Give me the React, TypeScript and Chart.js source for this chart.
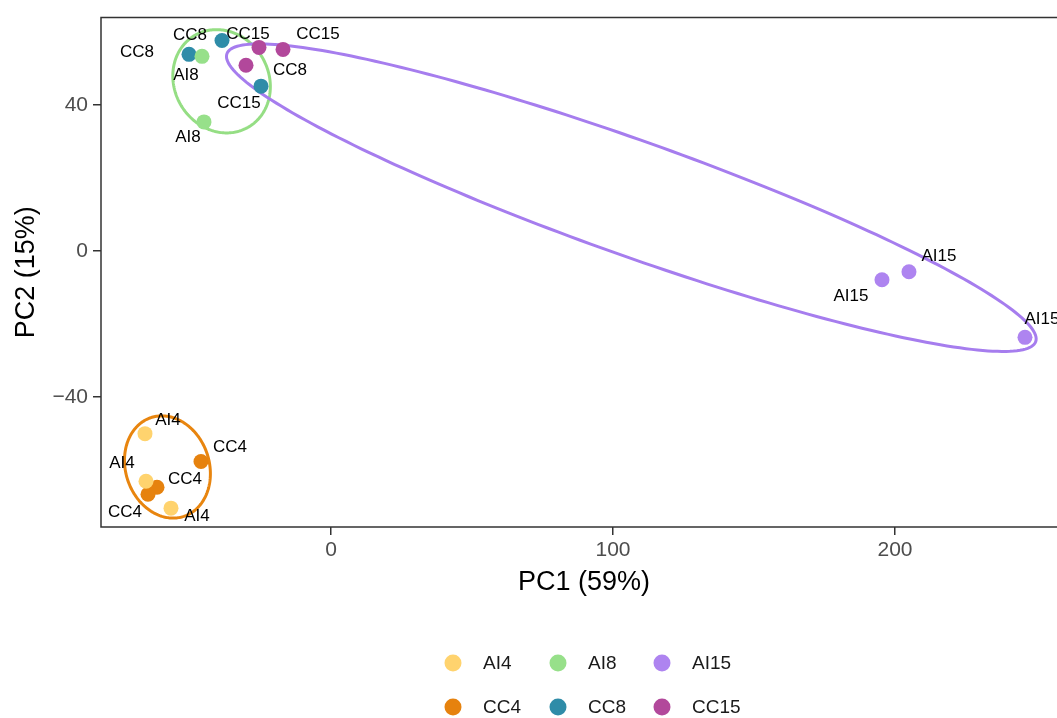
import React, { useEffect, useRef } from "react";
import { Chart, registerables } from "chart.js";
Chart.register(...registerables);

// ---- data ----
const groupNames = ["AI4", "AI8", "AI15", "CC4", "CC8", "CC15"];
const groupColors = ["#FFD36E", "#97E08A", "#AE84F0", "#E6820E", "#2F8CA8", "#B2489B"];

const ai4X = [-65.96, -65.6, -56.74];
const ai4Y = [-50.07, -63.13, -70.48];
const cc4X = [-46.1, -61.7, -64.89];
const cc4Y = [-57.69, -64.76, -66.67];
const ai8X = [-45.74, -45.04];
const ai8Y = [53.33, 35.37];
const cc8X = [-50.35, -38.65, -24.82];
const cc8Y = [53.88, 57.69, 45.17];
const cc15X = [-25.53, -17.02, -30.14];
const cc15Y = [55.78, 55.24, 50.88];
const ai15X = [195.39, 204.96, 246.1];
const ai15Y = [-7.89, -5.71, -23.67];

const xTicks = [0, 100, 200];
const yTicks = [-40, 0, 40];

// ellipses: center, first semi-diameter, second (conjugate) semi-diameter, in data units
const ellipseCX = [-58.0, -38.8, 106.5];
const ellipseCY = [-59.2, 46.5, 14.6];
const ellipseAX = [15.1, 17.2, 143.4];
const ellipseAY = [0, 0, -39.46];
const ellipseBX = [-2.0, -1.8, -6.9];
const ellipseBY = [14.0, 14.15, -14.8];
const ellipseColors = ["#E8850F", "#95DE84", "#A67DEE"];

// label offsets in pixels (repelled text), one per point
const labelDX = {
  AI4: [23, -24, 26],
  AI8: [-16, -16],
  AI15: [-31, 30, 17],
  CC4: [29, 28, -23],
  CC8: [-52, -32, 29],
  CC15: [-11, 35, -7],
};
const labelDY = {
  AI4: [-13, -18, 8],
  AI8: [19, 15],
  AI15: [17, -15, -18],
  CC4: [-14, -8, 18],
  CC8: [-2, -5, -16],
  CC15: [-13, -15, 38],
};

const seriesX: Record<string, number[]> = { AI4: ai4X, AI8: ai8X, AI15: ai15X, CC4: cc4X, CC8: cc8X, CC15: cc15X };
const seriesY: Record<string, number[]> = { AI4: ai4Y, AI8: ai8Y, AI15: ai15Y, CC4: cc4Y, CC8: cc8Y, CC15: cc15Y };

const FONT = "'Liberation Sans', Arial, Helvetica, sans-serif";

const drawOrder = ["AI4", "CC4", "AI8", "CC8", "CC15", "AI15"];

export default function App() {
  const ref = useRef<HTMLCanvasElement | null>(null);

  useEffect(() => {
    document.body.style.margin = "0";
    const canvas = ref.current;
    if (!canvas) return;

    const datasets = drawOrder.map((g) => {
      const i = groupNames.indexOf(g);
      return {
        label: g,
        data: seriesX[g].map((x, k) => ({ x, y: seriesY[g][k] })),
        backgroundColor: groupColors[i],
        borderWidth: 0,
        pointRadius: 7.5,
        pointHoverRadius: 7.5,
      };
    });

    const ellipsePlugin = {
      id: "ellipses",
      beforeDatasetsDraw(chart: any) {
        const { ctx, chartArea, scales } = chart;
        const xs = scales.x, ys = scales.y;
        ctx.save();
        ctx.beginPath();
        ctx.rect(chartArea.left, chartArea.top, chartArea.right - chartArea.left, chartArea.bottom - chartArea.top);
        ctx.clip();
        for (let e = 0; e < ellipseCX.length; e++) {
          ctx.beginPath();
          const n = 240;
          for (let k = 0; k <= n; k++) {
            const t = (k / n) * Math.PI * 2;
            const dx = ellipseCX[e] + ellipseAX[e] * Math.cos(t) + ellipseBX[e] * Math.sin(t);
            const dy = ellipseCY[e] + ellipseAY[e] * Math.cos(t) + ellipseBY[e] * Math.sin(t);
            const px = xs.getPixelForValue(dx);
            const py = ys.getPixelForValue(dy);
            if (k === 0) ctx.moveTo(px, py);
            else ctx.lineTo(px, py);
          }
          ctx.closePath();
          ctx.strokeStyle = ellipseColors[e];
          ctx.lineWidth = 3;
          ctx.stroke();
        }
        // labels
        ctx.fillStyle = "#000";
        ctx.font = `17px ${FONT}`;
        ctx.textAlign = "center";
        ctx.textBaseline = "middle";
        groupNames.forEach((g) => {
          const X = seriesX[g], Y = seriesY[g];
          const ddx = (labelDX as any)[g], ddy = (labelDY as any)[g];
          X.forEach((x, k) => {
            const px = xs.getPixelForValue(x) + ddx[k];
            const py = ys.getPixelForValue(Y[k]) + ddy[k];
            ctx.fillText(g, px, py);
          });
        });
        ctx.restore();
      },
      afterDraw(chart: any) {
        const { ctx, chartArea } = chart;
        ctx.save();
        ctx.strokeStyle = "#333333";
        ctx.lineWidth = 1.5;
        ctx.beginPath();
        ctx.moveTo(chartArea.right + 5, chartArea.top);
        ctx.lineTo(chartArea.left, chartArea.top);
        ctx.lineTo(chartArea.left, chartArea.bottom);
        ctx.lineTo(chartArea.right + 5, chartArea.bottom);
        ctx.stroke();

        // legend
        const colX = [453, 558, 662];
        const rowY = [663, 707];
        ctx.font = `19px ${FONT}`;
        ctx.textAlign = "left";
        ctx.textBaseline = "middle";
        groupNames.forEach((g, i) => {
          const c = i % 3;
          const r = Math.floor(i / 3);
          ctx.beginPath();
          ctx.arc(colX[c], rowY[r], 8.5, 0, Math.PI * 2);
          ctx.fillStyle = groupColors[i];
          ctx.fill();
          ctx.fillStyle = "#1a1a1a";
          ctx.fillText(g, colX[c] + 30, rowY[r] + 1);
        });
        ctx.restore();
      },
    };

    const chart = new Chart(canvas, {
      type: "scatter",
      data: { datasets },
      options: {
        animation: false,
        responsive: false,
        maintainAspectRatio: false,
        devicePixelRatio: 1,
        events: [],
        layout: { padding: { left: 0, right: 13, top: 14, bottom: 116 } },
        plugins: { legend: { display: false }, tooltip: { enabled: false } },
        scales: {
          x: {
            type: "linear",
            min: -81.56,
            max: 261,
            afterBuildTicks: (s: any) => {
              s.ticks = xTicks.map((v) => ({ value: v }));
            },
            afterFit: (s: any) => {
              s.height = 75;
            },
            border: { display: false },
            grid: { display: true, drawOnChartArea: false, drawTicks: true, tickLength: 8, color: "#333333", lineWidth: 1.5 },
            ticks: { color: "#4D4D4D", font: { family: FONT, size: 21 }, padding: 3, maxRotation: 0 },
            title: { display: true, text: "PC1 (59%)", color: "#000", font: { family: FONT, size: 27 }, padding: { top: 4, bottom: 3 } },
          },
          y: {
            type: "linear",
            min: -75.65,
            max: 63.95,
            afterBuildTicks: (s: any) => {
              s.ticks = yTicks.map((v) => ({ value: v }));
            },
            afterFit: (s: any) => {
              s.width = 101;
            },
            border: { display: false },
            grid: { display: true, drawOnChartArea: false, drawTicks: true, tickLength: 8, color: "#333333", lineWidth: 1.5 },
            ticks: {
              color: "#4D4D4D",
              font: { family: FONT, size: 21 },
              padding: 5,
              callback: (v: any) => (v < 0 ? "\u2212" + Math.abs(v) : String(v)),
            },
            title: { display: true, text: "PC2 (15%)", color: "#000", font: { family: FONT, size: 27 }, padding: { top: 10, bottom: 4 } },
          },
        },
      },
      plugins: [ellipsePlugin],
    } as any);

    return () => chart.destroy();
  }, []);

  return (
    <div style={{ width: 1057, height: 718, overflow: "hidden", position: "relative" }}>
      <canvas ref={ref} width={1080} height={718} style={{ display: "block", width: 1080, height: 718 }} />
    </div>
  );
}
